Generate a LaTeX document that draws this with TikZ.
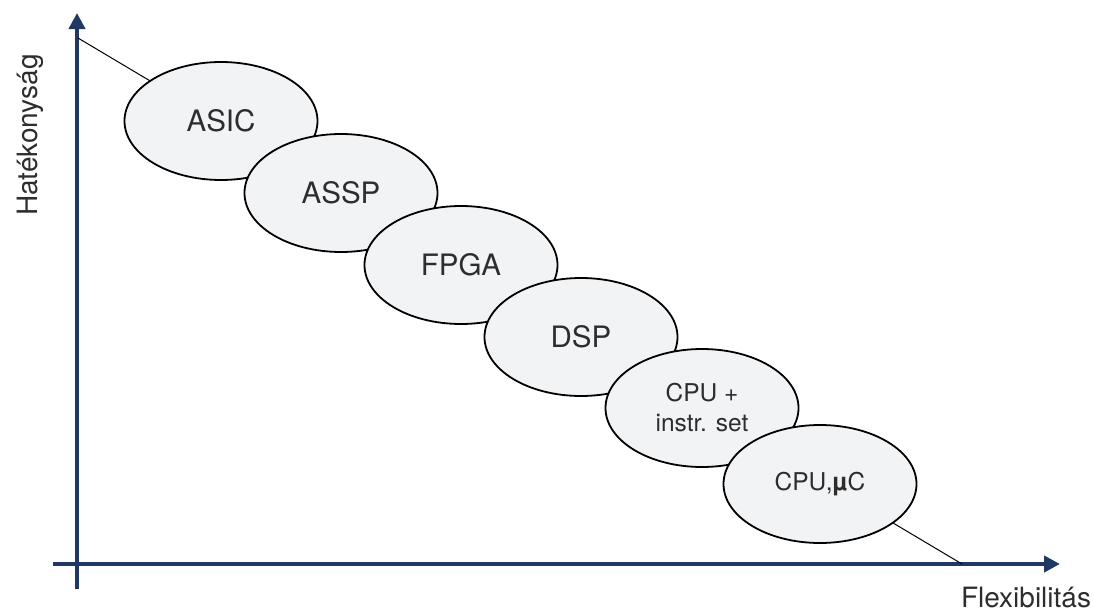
\documentclass[tikz,border=0pt]{standalone}
\usepackage{fontspec}
\setmainfont{TeX Gyre Heros}
\usetikzlibrary{shapes.geometric,arrows.meta}
\definecolor{axisblue}{RGB}{31,56,100}
\definecolor{blobfill}{RGB}{242,243,245}
\definecolor{labelgray}{RGB}{45,45,45}
\tikzset{
  axis/.style={draw=axisblue,line width=4pt,-{Triangle[width=16pt,length=16pt]}},
  trend/.style={draw=black,line width=1pt},
  blob/.style={ellipse,draw=black,line width=1.8pt,fill=blobfill,
    minimum width=193pt,minimum height=118pt,inner sep=0pt,
    text=labelgray,font=\fontsize{29.5}{30}\selectfont,align=center},
  smallblob/.style={blob,font=\fontsize{24.5}{30}\selectfont},
  axislabel/.style={text=labelgray,font=\fontsize{28}{30}\selectfont,inner sep=0pt}
}
\begin{document}
\begin{tikzpicture}[x=1pt,y=-1pt]
  \useasboundingbox (0,0) rectangle (1093,613);
  % axes
  \coordinate (ybot) at (77,589);
  \coordinate (ytop) at (77,13);
  \coordinate (xleft) at (53,564);
  \coordinate (xright) at (1060,564);
  \draw[axis] (ybot) -- (ytop);
  \draw[axis] (xleft) -- (xright);
  % trade-off line behind the blobs
  \coordinate (dstart) at (78,38);
  \coordinate (dend) at (962,564);
  \draw[trend] (dstart) -- (dend);
  % technology blobs, each drawn over the previous one
  \node[blob] (asic) at (221,121) {ASIC};
  \node[blob] (assp) at (341,193) {ASSP};
  \node[blob] (fpga) at (461,265) {FPGA};
  \node[blob] (dsp) at (581,337) {DSP};
  \node[smallblob] (cpuis) at (702,408) {CPU +\\instr. set};
  \node[smallblob] (cpumc) at (820,484) {CPU,{\bfseries µ}C};
  % axis labels
  \node[axislabel,rotate=90,anchor=base] (ylab) at (37,135) {Hatékonyság};
  \node[axislabel,anchor=base] (xlab) at (1026,607) {Flexibilitás};
\end{tikzpicture}
\end{document}
